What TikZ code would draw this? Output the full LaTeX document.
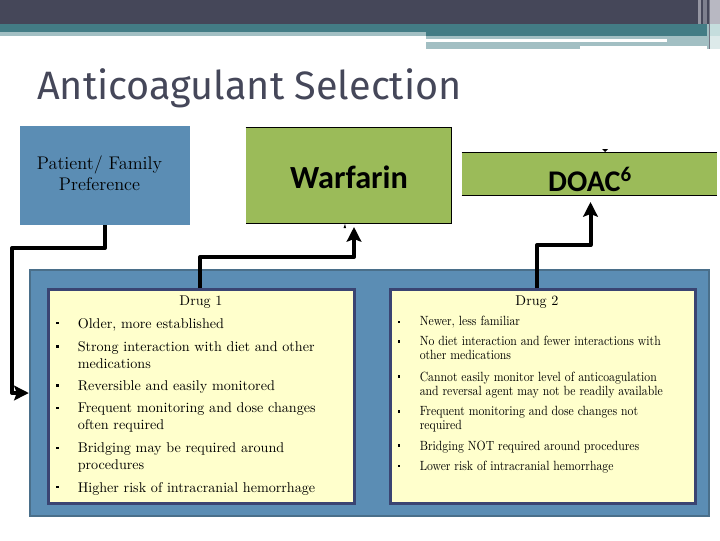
\documentclass[tikz,border=0pt]{standalone}
\usepackage{fontspec}
\usetikzlibrary{arrows.meta}
\newfontfamily\titlefont{Fira Sans}
\newfontfamily\boldsans{Carlito}[BoldFont={Carlito Bold}]
\newfontfamily\narrowrm{Latin Modern Roman}[FakeStretch=0.88]
\definecolor{hdark}{HTML}{454759}
\definecolor{hteal}{HTML}{437C85}
\definecolor{hpale}{HTML}{A2BFC3}
\definecolor{hgrey}{HTML}{B8B8C2}
\definecolor{hlite}{HTML}{C5DDDD}
\definecolor{hlite2}{HTML}{DDEAEA}
\definecolor{pblue}{HTML}{5B8DB4}
\definecolor{pedge}{HTML}{4A6F8A}
\definecolor{pgreen}{HTML}{9BBB59}
\definecolor{cream}{HTML}{FFFFCC}
\definecolor{navy}{HTML}{3A4472}
\tikzset{
  x=0.75pt,y=-0.75pt,
  stitle/.style={inner sep=0,text=hdark,anchor=base west,font=\titlefont\fontsize{29.7}{36}\selectfont},
  flow/.style={line width=3pt,draw=black,line join=round,-{Stealth[length=11pt,width=11pt,inset=2pt]}},
  hd/.style={inner sep=0,anchor=base,font=\fontsize{10.6}{12}\selectfont},
  ltxt/.style={inner sep=0,anchor=base west,align=left,font=\fontsize{10.6}{12.6}\selectfont},
  rtxt/.style={inner sep=0,anchor=base west,align=left,font=\narrowrm\fontsize{10}{10.4}\selectfont},
  bul/.style={inner sep=0,fill=black,minimum width=1.9pt,minimum height=2.2pt},
}
\begin{document}
\begin{tikzpicture}
\useasboundingbox (0,0) rectangle (720,540);
% header
\fill[hdark] (0,0) rectangle (720,24);
\fill[hteal] (0,24) rectangle (720,36);
\fill[hpale] (0,32) rectangle (426,36);
\fill[hpale] (426,36) rectangle (707,39);
\fill[hpale] (426,42) rectangle (707,46);
\fill[hpale] (426,46) rectangle (580,49);
\fill[hpale] (667,39) rectangle (707,42);
\fill[hgrey!70!hdark] (698,0) rectangle (701,24);
\fill[hgrey!50!hdark] (703,0) rectangle (707,24);
\fill[hgrey] (710,0) rectangle (720,24);
\fill[hlite] (710,24) rectangle (720,36);
\fill[hlite2] (710,36) rectangle (720,49);
\fill[hpale] (707,24) rectangle (710,49);
\fill[hdark!75!white] (708.5,0) rectangle (710,49);
\node[stitle] (title) at (37,99) {Anticoagulant Selection};
% boxes
\node[fill=pblue,draw=none,minimum width=127.5pt,minimum height=74.25pt,inner sep=0] (pref) at (105,175.5) {};
\node[inner sep=0,align=center,font=\fontsize{13.7}{15.8}\selectfont,anchor=base] (preft) at (99.5,190.5) {Patient/ Family\\Preference};
\node[fill=pgreen,draw=none,minimum width=153.75pt,minimum height=71.25pt,inner sep=0] (warf) at (348.5,175.5) {};
\draw[line width=0.6pt] (warf.north west) -- (warf.north east) -- (warf.south east) -- (warf.south west);
\node[inner sep=0,font=\boldsans\bfseries\fontsize{24.2}{26}\selectfont] (warft) at (349,177.5) {Warfarin};
\node[fill=pgreen,draw=none,minimum width=191.25pt,minimum height=31.5pt,inner sep=0] (doacb) at (589.5,174) {};
\draw[line width=0.6pt] (doacb.north west) -- (doacb.north east) (doacb.south west) -- (doacb.south east);
\coordinate (doac) at (590.5,202);
\node[inner sep=0,font=\boldsans\bfseries\fontsize{22.5}{24}\selectfont] (doact) at (590,179) {DOAC\textsuperscript{6}};
\fill (602,149) -- (608,149) -- (605,152) -- cycle;
\fill (343.5,228) -- (346,228) -- (345,224) -- cycle;
% panel
\node[fill=pblue,draw=pedge,line width=1.8pt,minimum width={(709-30)*0.75pt},minimum height={(516-270)*0.75pt},inner sep=0] (panel) at (369.5,393) {};
\node[fill=cream,draw=navy,line width=2.3pt,minimum width={(354.5-48.5)*0.75pt},minimum height={(503.5-289.5)*0.75pt},inner sep=0] (d1) at (201.5,396.5) {};
\node[fill=cream,draw=navy,line width=2.3pt,minimum width={(695.5-390.5)*0.75pt},minimum height={(503.5-289.5)*0.75pt},inner sep=0] (d2) at (543,396.5) {};
% connectors
\coordinate (warfin) at (354,227);
\coordinate (a1) at (105,248);
\coordinate (a2) at (12,248);
\coordinate (a3) at (12,393);
\coordinate (d1top) at (200,288);
\coordinate (d2top) at (537,288);
\draw[flow] (pref.south -| a1) -- (a1) -- (a2) -- (a3) -- (panel.west |- a3);
\draw[flow] (d1top) -- (200,257) -- (354,257) -- (warfin);
\draw[flow] (d2top) -- (537,245) -- (590.5,245) -- (doac);
% Drug 1
\node[hd] (h1) at (201,305) {Drug {\addfontfeature{Numbers=OldStyle}1}};
\foreach \n/\y in {a/323,b/346.5,c/385.5,d/408,e/448,f/487}{\node[bul] (bl\n) at (57.5,\y) {};}
\node[ltxt] (l1) at (77.5,328) {Older, more established};
\node[ltxt] (l2) at (77.5,368) {Strong interaction with diet and other\\medications};
\node[ltxt] (l3) at (77.5,390) {Reversible and easily monitored};
\node[ltxt] (l4) at (77.5,429) {Frequent monitoring and dose changes\\often required};
\node[ltxt] (l5) at (77.5,469.5) {Bridging may be required around\\procedures};
\node[ltxt] (l6) at (77.5,492) {Higher risk of intracranial hemorrhage};
% Drug 2
\node[hd] (h2) at (537,305) {Drug {\addfontfeature{Numbers=OldStyle}2}};
\foreach \n/\y in {a/322,b/341.5,c/376.5,d/411.5,e/445.5,f/466}{\node[bul] (br\n) at (399,\y) {};}
\node[rtxt] (r1) at (419.5,325.5) {Newer, less familiar};
\node[rtxt] (r2) at (419.5,359.5) {No diet interaction and fewer interactions with\\other medications};
\node[rtxt] (r3) at (419.5,395) {Cannot easily monitor level of anticoagulation\\and reversal agent may not be readily available};
\node[rtxt] (r4) at (419.5,429.5) {Frequent monitoring and dose changes not\\required};
\node[rtxt] (r5) at (419.5,450) {Bridging NOT required around procedures};
\node[rtxt] (r6) at (419.5,470.5) {Lower risk of intracranial hemorrhage};
\end{tikzpicture}
\end{document}
